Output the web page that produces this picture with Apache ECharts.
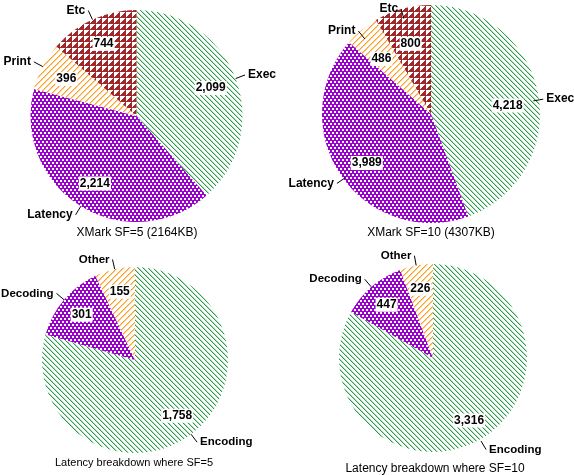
<!DOCTYPE html>
<html>
<head>
<meta charset="utf-8">
<script src="https://cdn.jsdelivr.net/npm/echarts@6/dist/echarts.min.js"></script>
<style>
  html, body { margin: 0; padding: 0; background: #fff; }
  #chart { width: 574px; height: 475px; }
</style>
</head>
<body>
<div id="chart"></div>
<script>
// ---- data ----
const xmarkNames = ['Exec', 'Latency', 'Print', 'Etc'];
const xmarkSF5 = [2099, 2214, 396, 744];
const xmarkSF10 = [4218, 3989, 486, 800];
const latencyNames = ['Encoding', 'Decoding', 'Other'];
const latencySF5 = [1758, 301, 155];
const latencySF10 = [3316, 447, 226];
const chartTitles = ['XMark SF=5 (2164KB)', 'XMark SF=10 (4307KB)',
                     'Latency breakdown where SF=5', 'Latency breakdown where SF=10'];

// ---- patterns ----
function tile(w, h, painter) {
  const c = document.createElement('canvas');
  c.width = w; c.height = h;
  const ctx = c.getContext('2d');
  painter(ctx, w, h);
  return { image: c, repeat: 'repeat' };
}
const GREEN = '#2a9d4a', ORANGE = '#ffa024', PURPLE = '#9900cc', BROWN = '#a0282a';
const greenLines = tile(5, 5, (ctx, w, h) => {
  ctx.fillStyle = '#fff'; ctx.fillRect(0, 0, w, h);
  for (let y = 0; y < h; y++) for (let x = 0; x < w; x++) {
    const m = ((x - y) % 5 + 5) % 5;
    if (m === 0) { ctx.fillStyle = GREEN; ctx.fillRect(x, y, 1, 1); }
    else if (m === 1) { ctx.fillStyle = 'rgba(42,157,74,0.35)'; ctx.fillRect(x, y, 1, 1); }
  }
});
const orangeLines = tile(6, 6, (ctx, w, h) => {
  ctx.fillStyle = '#fff'; ctx.fillRect(0, 0, w, h);
  for (let y = 0; y < h; y++) for (let x = 0; x < w; x++) {
    const m = (x + y) % 6;
    if (m === 0) { ctx.fillStyle = ORANGE; ctx.fillRect(x, y, 1, 1); }
    else if (m === 1) { ctx.fillStyle = 'rgba(255,160,36,0.55)'; ctx.fillRect(x, y, 1, 1); }
  }
});
const purpleDots = tile(4, 6, (ctx, w, h) => {
  ctx.fillStyle = PURPLE; ctx.fillRect(0, 0, w, h);
  ctx.fillStyle = '#fff';
  ctx.fillRect(0, 0, 2, 2);
  ctx.fillRect(2, 3, 2, 2);
});
const brownTri = tile(6, 6, (ctx, w, h) => {
  ctx.fillStyle = '#fff'; ctx.fillRect(0, 0, w, h);
  ctx.fillStyle = BROWN;
  for (let y = 0; y < h; y++) for (let x = 0; x < w; x++) {
    if (x + y >= 5) ctx.fillRect(x, y, 1, 1);
  }
});
const xmarkFills = [greenLines, purpleDots, orangeLines, brownTri];
const latencyFills = [greenLines, purpleDots, orangeLines];

const FONT = 'Liberation Sans, Arial, sans-serif';
const fmt = v => v.toLocaleString('en-US');
const CLEAR = 'rgba(0,0,0,0)';

// pie: geometry of the slices; lab: geometry used for the text labels
function pieSeries(names, values, fills, pie, lab, nameSize) {
  const base = {
    type: 'pie', startAngle: 90, clockwise: true, avoidLabelOverlap: false,
    silent: true, animation: false, emphasis: { disabled: true }
  };
  const slices = Object.assign({}, base, {
    center: pie.c, radius: [0, pie.r],
    itemStyle: { borderWidth: 0 },
    label: { show: false }, labelLine: { show: false },
    data: names.map((n, i) => ({ name: n, value: values[i], itemStyle: { color: fills[i] } }))
  });
  const nameLabels = Object.assign({}, base, {
    center: lab.c, radius: [0, lab.r], z: 4,
    itemStyle: { color: CLEAR, borderWidth: 0 },
    label: {
      show: true, position: 'outside', formatter: '{b}', color: '#000',
      fontFamily: FONT, fontWeight: 'bold', fontSize: nameSize, distanceToLabelLine: 3
    },
    labelLine: { show: true, length: 10, length2: 0, smooth: false,
                 lineStyle: { color: '#000', width: 1 } },
    data: names.map((n, i) => ({ name: n, value: values[i] }))
  });
  const valueLabels = Object.assign({}, base, {
    center: lab.c, radius: [lab.r * 0.44, lab.r], z: 5,
    itemStyle: { color: CLEAR, borderWidth: 0 },
    label: {
      show: true, position: 'inside', color: '#000', fontFamily: FONT, fontWeight: 'bold',
      fontSize: 12, lineHeight: 13, backgroundColor: '#fff', padding: [1, 1, 0, 1],
      formatter: p => fmt(p.value)
    },
    labelLine: { show: false },
    data: names.map((n, i) => ({ name: n, value: values[i] }))
  });
  return [slices, nameLabels, valueLabels];
}

const chart = echarts.init(document.getElementById('chart'), null, { renderer: 'canvas' });
const titleText = (text, x, y, size) => ({
  type: 'text', x: x, y: y,
  style: { text: text, fill: '#000', font: size + 'px ' + FONT, textAlign: 'center', textVerticalAlign: 'middle' }
});
chart.setOption({
  backgroundColor: '#fff',
  animation: false,
  series: [].concat(
    pieSeries(xmarkNames, xmarkSF5, xmarkFills, { c: [136.5, 116], r: 106 }, { c: [136.5, 116], r: 106 }, 12),
    pieSeries(xmarkNames, xmarkSF10, xmarkFills, { c: [431, 114], r: 109 }, { c: [431, 119], r: 104 }, 12),
    pieSeries(latencyNames, latencySF5, latencyFills, { c: [135, 360], r: 93 }, { c: [135, 360], r: 93 }, 11.5),
    pieSeries(latencyNames, latencySF10, latencyFills, { c: [433, 358], r: 94 }, { c: [433, 359], r: 95 }, 11.5)
  ),
  graphic: [
    titleText(chartTitles[0], 137, 233, 12),
    titleText(chartTitles[1], 431, 233, 12),
    titleText(chartTitles[2], 134, 463, 11),
    titleText(chartTitles[3], 435, 469, 12)
  ]
});
</script>
</body>
</html>
